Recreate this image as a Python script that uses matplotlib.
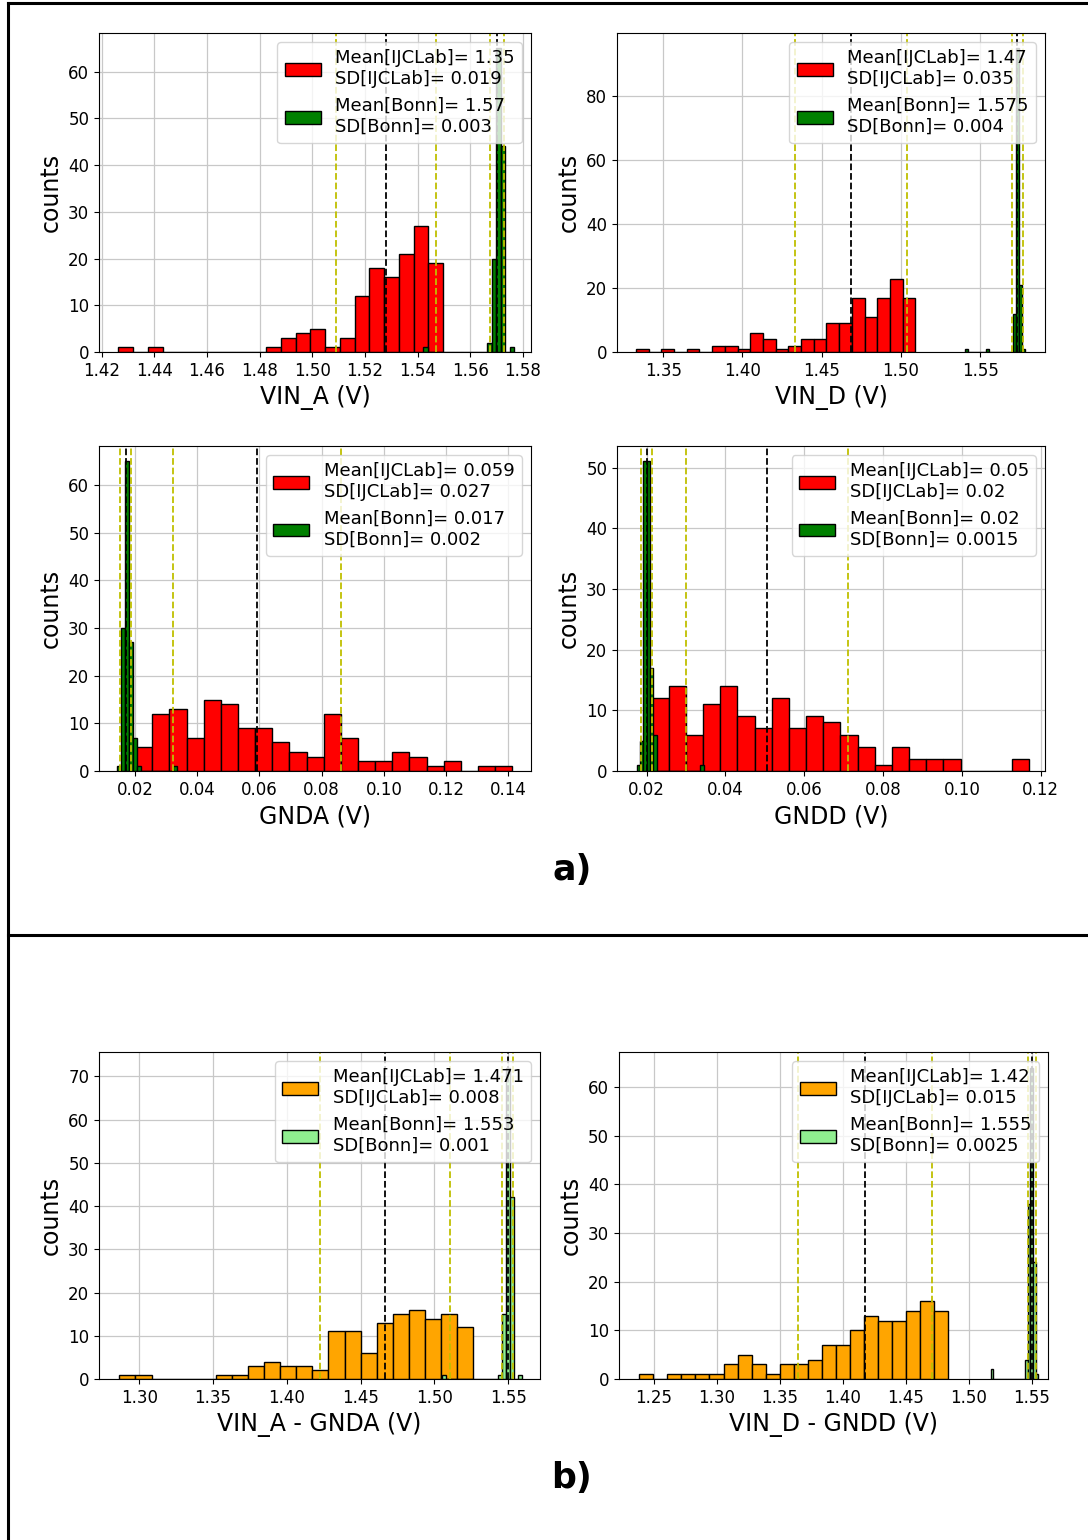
import numpy as np
import matplotlib
matplotlib.use("Agg")
import matplotlib.pyplot as plt
from matplotlib.lines import Line2D
from matplotlib.ticker import MultipleLocator

# Data --------------------------------------------------------------------
# each histogram: (lowest edge, highest edge) + counts per bin

vina_red_range = (1.4263, 1.5497)
vina_red = [1, 0, 1, 0, 0, 0, 0, 0, 0, 0, 1, 3, 4, 5, 1, 3, 12, 18, 16, 21, 27, 19]
vina_green_range = (1.5421, 1.5767)
vina_green = [1, 0, 0, 0, 0, 0, 0, 0, 0, 0, 0, 0, 0, 0, 2, 20, 65, 44, 0, 1]

vind_red_range = (1.3328, 1.5091)
vind_red = [1, 0, 1, 0, 1, 0, 2, 2, 1, 6, 4, 1, 2, 4, 4, 9, 9, 17, 11, 17, 23, 17]
vind_green_range = (1.5404, 1.5784)
vind_green = [1, 0, 0, 0, 0, 0, 0, 1, 0, 0, 0, 0, 0, 0, 0, 0, 12, 95, 21, 1]

gnda_red_range = (0.0200, 0.1413)
gnda_red = [5, 12, 13, 7, 15, 14, 9, 9, 6, 4, 3, 12, 7, 2, 2, 4, 3, 1, 2, 0, 1, 1]
gnda_green_range = (0.0141, 0.0336)
gnda_green = [1, 30, 65, 27, 7, 1, 0, 0, 0, 0, 0, 0, 0, 0, 1]

gndd_red_range = (0.0213, 0.1171)
gndd_red = [12, 14, 6, 11, 14, 9, 7, 12, 7, 9, 8, 6, 4, 1, 4, 2, 2, 2, 0, 0, 0, 2]
gndd_green_range = (0.0175, 0.0345)
gndd_green = [1, 5, 51, 51, 17, 6, 0, 0, 0, 0, 0, 0, 0, 0, 0, 0, 0, 0, 0, 1]

diffa_red_range = (1.2865, 1.5263)
diffa_red = [1, 1, 0, 0, 0, 0, 1, 1, 3, 4, 3, 3, 2, 11, 11, 6, 13, 15, 16, 14, 15, 12]
diffa_green_range = (1.5050, 1.5590)
diffa_green = [1, 0, 0, 0, 0, 0, 0, 0, 0, 0, 0, 0, 0, 0, 1, 15, 72, 42, 0, 1]

diffd_red_range = (1.2383, 1.4838)
diffd_red = [1, 0, 1, 1, 1, 1, 3, 5, 3, 1, 3, 3, 4, 7, 7, 10, 13, 12, 12, 14, 16, 14]
diffd_green_range = (1.5175, 1.5553)
diffd_green = [2, 0, 0, 0, 0, 0, 0, 0, 0, 0, 0, 0, 0, 4, 36, 64, 24, 1]

# mean / sd lines as drawn (IJCLab, Bonn)
lines_vina = [(1.528, 0.019), (1.570, 0.0027)]
lines_vind = [(1.4687, 0.0354), (1.5735, 0.0033)]
lines_gnda = [(0.0593, 0.027), (0.0170, 0.0018)]
lines_gndd = [(0.0505, 0.0205), (0.0200, 0.0014)]
lines_diffa = [(1.4665, 0.044), (1.5495, 0.004)]
lines_diffd = [(1.4176, 0.053), (1.5502, 0.0032)]

# legend texts
leg_vina = ["Mean[IJCLab]= 1.35\nSD[IJCLab]= 0.019", "Mean[Bonn]= 1.57\nSD[Bonn]= 0.003"]
leg_vind = ["Mean[IJCLab]= 1.47\nSD[IJCLab]= 0.035", "Mean[Bonn]= 1.575\nSD[Bonn]= 0.004"]
leg_gnda = ["Mean[IJCLab]= 0.059\nSD[IJCLab]= 0.027", "Mean[Bonn]= 0.017\nSD[Bonn]= 0.002"]
leg_gndd = ["Mean[IJCLab]= 0.05\nSD[IJCLab]= 0.02", "Mean[Bonn]= 0.02\nSD[Bonn]= 0.0015"]
leg_diffa = ["Mean[IJCLab]= 1.471\nSD[IJCLab]= 0.008", "Mean[Bonn]= 1.553\nSD[Bonn]= 0.001"]
leg_diffd = ["Mean[IJCLab]= 1.42\nSD[IJCLab]= 0.015", "Mean[Bonn]= 1.555\nSD[Bonn]= 0.0025"]


def draw_hist(ax, rng, counts, color, label):
    # rebuild the bin edges and draw the bars through the axes
    edges = np.linspace(rng[0], rng[1], len(counts) + 1)
    ax.bar(edges[:-1], counts, width=np.diff(edges), align="edge",
           color=color, edgecolor="black", linewidth=1.0, label=label)


def draw_lines(ax, lines):
    for m, s in lines:
        ax.axvline(m, color="k", ls="--", lw=1.3)
        ax.axvline(m - s, color="y", ls="--", lw=1.3)
        ax.axvline(m + s, color="y", ls="--", lw=1.3)


def panel(rect, red_rng, red, green_rng, green, lines, legs, xlabel,
          xlim, xstep, ystep, col1="red", col2="green"):
    ax = fig.add_axes(rect)
    draw_hist(ax, red_rng, red, col1, legs[0])
    draw_hist(ax, green_rng, green, col2, legs[1])
    draw_lines(ax, lines)
    ax.set_xlim(*xlim)
    ax.xaxis.set_major_locator(MultipleLocator(xstep))
    ax.yaxis.set_major_locator(MultipleLocator(ystep))
    ax.grid(True, color="#c8c8c8", lw=0.9)
    ax.set_axisbelow(True)
    ax.tick_params(labelsize=12)
    ax.set_xlabel(xlabel, fontsize=17)
    ax.set_ylabel("counts", fontsize=17)
    ax.legend(loc="upper right", fontsize=13, handlelength=2.0)
    return ax


fig = plt.figure(figsize=(10.88, 15.4), dpi=100)

# a) --------------------------------------------------------------
panel([0.0910, 0.7714, 0.397, 0.2071], vina_red_range, vina_red,
      vina_green_range, vina_green, lines_vina, leg_vina, "VIN_A (V)",
      (1.4190, 1.5830), 0.02, 10)
panel([0.5671, 0.7714, 0.3934, 0.2071], vind_red_range, vind_red,
      vind_green_range, vind_green, lines_vind, leg_vind, "VIN_D (V)",
      (1.3208, 1.5910), 0.05, 20)
panel([0.0910, 0.4994, 0.397, 0.2110], gnda_red_range, gnda_red,
      gnda_green_range, gnda_green, lines_gnda, leg_gnda, "GNDA (V)",
      (0.0084, 0.1473), 0.02, 10)
panel([0.5671, 0.4994, 0.3934, 0.2110], gndd_red_range, gndd_red,
      gndd_green_range, gndd_green, lines_gndd, leg_gndd, "GNDD (V)",
      (0.0125, 0.1211), 0.02, 10)

# b) --------------------------------------------------------------
panel([0.0910, 0.1045, 0.4053, 0.2123], diffa_red_range, diffa_red,
      diffa_green_range, diffa_green, lines_diffa, leg_diffa, "VIN_A - GNDA (V)",
      (1.2727, 1.5715), 0.05, 10, col1="orange", col2="lightgreen")
panel([0.5689, 0.1045, 0.3943, 0.2123], diffd_red_range, diffd_red,
      diffd_green_range, diffd_green, lines_diffd, leg_diffd, "VIN_D - GNDD (V)",
      (1.2222, 1.5630), 0.05, 10, col1="orange", col2="lightgreen")

# frame and section labels
fig.add_artist(Line2D([0.0074, 1.0], [0.998, 0.998], color="black", lw=2.2))
fig.add_artist(Line2D([0.0074, 0.0074], [0.0, 0.998], color="black", lw=2.2))
fig.add_artist(Line2D([0.0074, 1.0], [0.3929, 0.3929], color="black", lw=2.2))
fig.text(0.5257, 0.435, "a)", fontsize=25, fontweight="bold", ha="center", va="center")
fig.text(0.5257, 0.0403, "b)", fontsize=25, fontweight="bold", ha="center", va="center")

plt.savefig("out.png", dpi=100)
